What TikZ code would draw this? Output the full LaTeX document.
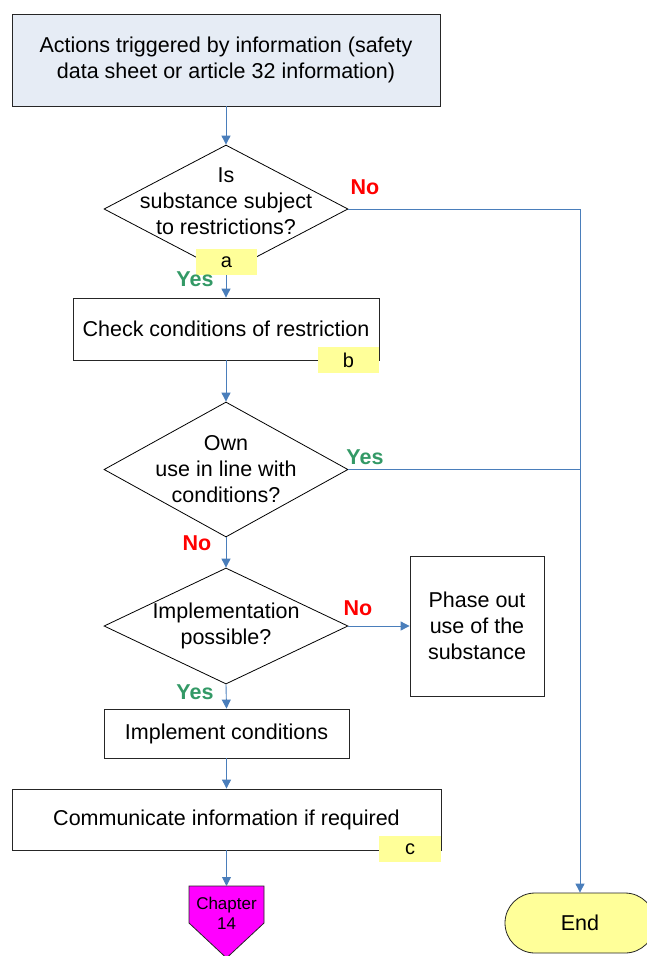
\documentclass[tikz,border=0pt]{standalone}
\usepackage{fontspec}
\setmainfont{Liberation Sans}
\usetikzlibrary{shapes.geometric,arrows.meta}
\definecolor{lineblue}{HTML}{4A7EBB}
\definecolor{topfill}{HTML}{E6ECF5}
\definecolor{noteyellow}{HTML}{FFFF99}
\definecolor{yesgreen}{HTML}{339966}
\definecolor{nored}{HTML}{FF0000}
\definecolor{chapmag}{HTML}{FF00FF}
\begin{document}
\begin{tikzpicture}[x=1pt,y=-1pt,
  every node/.style={font=\fontsize{21.5}{26}\selectfont, align=center},
  box/.style={draw=black!85, line width=0.8pt, rectangle, inner sep=0pt},
  dia/.style={draw=black, line width=0.8pt, shape=diamond, inner sep=0pt, minimum width=244pt},
  note/.style={fill=noteyellow, inner sep=0pt, minimum width=61pt, minimum height=26pt, font=\fontsize{20}{22}\selectfont},
  conn/.style={draw=lineblue, line width=0.9pt},
  arr/.style={conn, -{Triangle[length=9pt,width=9pt]}},
  yes/.style={text=yesgreen, font=\bfseries\fontsize{21.5}{22}\selectfont},
  no/.style={text=nored, font=\bfseries\fontsize{21.5}{22}\selectfont}
]
\useasboundingbox (0,0) rectangle (646,956);

% nodes
\node[box, fill=topfill, minimum width=428pt, minimum height=92pt] (top) at (226,60)
  {Actions triggered by information (safety\\data sheet or article 32 information)};
\node[dia, minimum height=128pt] (d1) at (226,209) {};
\node (d1t) at (226,201) {Is\\substance subject\\to restrictions?};
\node[box, minimum width=306pt, minimum height=62pt] (chk) at (226,329) {Check conditions of restriction};
\node[dia, minimum height=135pt] (d2) at (226,469.5) {};
\node (d2t) at (226,469) {Own\\use in line with\\conditions?};
\node[dia, minimum height=116pt] (d3) at (226,626) {};
\node (d3t) at (226,626) {Implementation\\possible?};
\node[box, minimum width=134pt, minimum height=140pt] (phase) at (477,626) {Phase out\\use of the\\substance};
\node[box, minimum width=245pt, minimum height=49pt] (impl) at (226.5,733.5) {Implement conditions};
\node[box, minimum width=429pt, minimum height=61pt] (comm) at (226.5,819.5) {Communicate information if required};

% chapter connector
\coordinate (chtop) at (226.5,886);
\draw[draw=black!85, line width=0.8pt, fill=chapmag] (189,886) -- (264,886) -- (264,923) -- (226.5,958) -- (189,923) -- cycle;
\node[font=\fontsize{17}{20}\selectfont] (ch) at (226.5,913) {Chapter\\14};

% end
\node[draw=black!85, line width=0.8pt, fill=noteyellow, rounded corners=30pt, minimum width=150pt, minimum height=60pt, inner sep=0pt] (end) at (580,923) {End};

% connectors
\coordinate (j1) at (580,209);
\coordinate (j2) at (580,469.5);
\draw[arr] (top.south) -- (d1.north);
\draw[arr] (d1.south) -- (chk.north);
\draw[arr] (chk.south) -- (d2.north);
\draw[arr] (d2.south) -- (d3.north);
\draw[arr] (d3.east) -- (phase.west);
\draw[arr] (d3.south) -- (impl.north);
\draw[arr] (impl.south) -- (comm.north);
\draw[arr] (comm.south) -- (chtop);
\draw[arr] (d1.east) -- (j1) -- (end.north);
\draw[conn] (d2.east) -- (j2);

% notes
\node[note] (na) at (226.5,262) {a};
\node[note] (nb) at (348.5,360) {b};
\node[note, minimum width=62pt] (nc) at (410,849) {c};

% branch labels
\node[no] (l1) at (365,187) {No};
\node[yes] (l2) at (195,279) {Yes};
\node[yes] (l3) at (365,457) {Yes};
\node[no] (l4) at (197,543) {No};
\node[no] (l5) at (358,608) {No};
\node[yes] (l6) at (195,692) {Yes};
\end{tikzpicture}
\end{document}
